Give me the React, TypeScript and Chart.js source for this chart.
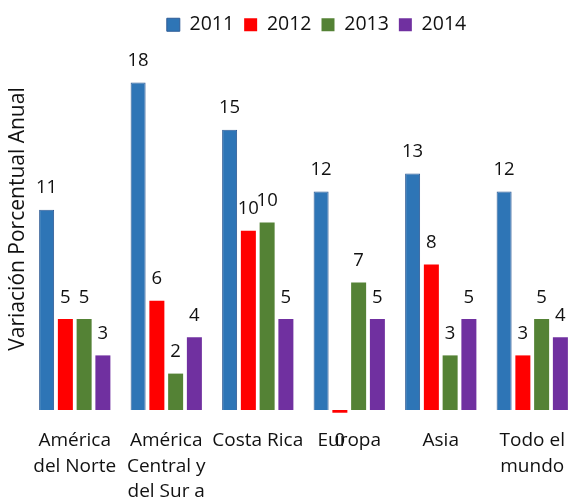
import React, { useEffect, useRef } from 'react';
import { Chart, registerables } from 'chart.js';

Chart.register(...registerables);

const categories: (string | string[])[] = [
  ['América', 'del Norte'],
  ['América', 'Central y', 'del Sur a'],
  'Costa Rica',
  'Europa',
  'Asia',
  ['Todo el', 'mundo'],
];
const seriesNames = ['2011', '2012', '2013', '2014'];
const values2011 = [11, 18, 15.4, 12, 13, 12];
const values2012 = [5, 6, 9.85, -0.15, 8, 3];
const values2013 = [5, 2, 10.3, 7, 3, 5];
const values2014 = [3, 4, 5, 5, 5, 4];
const seriesColors = ['#2E75B6', '#FF0000', '#548235', '#7030A0'];
const seriesBorders = ['#2F5C96', '#FF0000', '#548235', '#7030A0'];
const yTitle = 'Variación Porcentual Anual';

const FONT = "'Open Sans', 'DejaVu Sans', sans-serif";
const TEXT = '#111111';

const legendPlugin = {
  id: 'legendTweak',
  beforeInit(chart: any) {
    const legend = chart.legend;
    if (legend) {
      const fit = legend.fit;
      legend.fit = function () {
        fit.call(legend);
        legend.height = 41;
      };
    }
  },
  afterLayout(chart: any) {
    const legend = chart.legend;
    if (legend) {
      legend.left += 13;
      legend.right += 13;
    }
  },
};

const labelPlugin = {
  id: 'valueLabels',
  afterDatasetsDraw(chart: any) {
    const ctx = chart.ctx;
    ctx.save();
    ctx.font = `18.5px ${FONT}`;
    ctx.fillStyle = TEXT;
    ctx.textAlign = 'center';
    ctx.textBaseline = 'alphabetic';
    chart.data.datasets.forEach((ds: any, di: number) => {
      const meta = chart.getDatasetMeta(di);
      meta.data.forEach((bar: any, i: number) => {
        const v = ds.data[i] as number;
        const txt = String(Math.round(v) + 0);
        const y = v >= 0 ? bar.y - 16.5 : bar.y + 33;
        ctx.fillText(txt === '-0' ? '0' : txt, bar.x, y);
      });
    });
    ctx.restore();
  },
};

const yTitlePlugin = {
  id: 'yTitle',
  afterDraw(chart: any) {
    const ctx = chart.ctx;
    const area = chart.chartArea;
    ctx.save();
    ctx.font = `21px ${FONT}`;
    ctx.fillStyle = TEXT;
    ctx.textAlign = 'center';
    ctx.textBaseline = 'middle';
    ctx.translate(18, area.top + 173);
    ctx.rotate(-Math.PI / 2);
    ctx.fillText(yTitle, 0, 0);
    ctx.restore();
  },
};

export default function App() {
  const ref = useRef<HTMLCanvasElement | null>(null);

  useEffect(() => {
    if (!ref.current) return;
    const seriesValues = [values2011, values2012, values2013, values2014];
    const chart = new Chart(ref.current, {
      type: 'bar',
      data: {
        labels: categories,
        datasets: seriesNames.map((name, i) => ({
          label: name,
          data: seriesValues[i],
          backgroundColor: seriesColors[i],
          borderColor: seriesBorders[i],
          borderWidth: i === 0 ? 1 : 0,
          barPercentage: 0.8,
          categoryPercentage: 0.82,
        })),
      },
      options: {
        responsive: false,
        animation: false,
        devicePixelRatio: 1,
        layout: { padding: { left: 29, right: 2, top: 5, bottom: 0 } },
        plugins: {
          legend: {
            position: 'top',
            labels: {
              boxWidth: 13,
              boxHeight: 13,
              padding: 10,
              color: TEXT,
              font: { family: FONT, size: 19.5 },
            },
          },
          tooltip: { enabled: false },
          title: { display: false },
        },
        scales: {
          x: {
            grid: { display: false },
            border: { display: false },
            ticks: {
              color: TEXT,
              font: { family: FONT, size: 19, lineHeight: 1.34 },
              padding: -1,
              maxRotation: 0,
              minRotation: 0,
              autoSkip: false,
            },
            afterFit(scale: any) {
              scale.height = 78.08;
            },
          },
          y: {
            min: -0.6,
            max: 20,
            ticks: { display: false, stepSize: 1 },
            border: { display: false },
            grid: {
              drawTicks: false,
              color: (c: any) => (c.tick && c.tick.value === 0 ? '#D9D9D9' : 'rgba(0,0,0,0)'),
              lineWidth: 2,
            },
            afterFit(scale: any) {
              scale.width = 0;
            },
          },
        },
      },
      plugins: [legendPlugin, labelPlugin, yTitlePlugin],
    } as any);
    return () => chart.destroy();
  }, []);

  return (
    <div
      style={{
        position: 'fixed',
        left: 0,
        top: 0,
        width: 572,
        height: 499,
        overflow: 'hidden',
        background: '#fff',
      }}
    >
      <canvas ref={ref} width={580} height={499} style={{ width: 580, height: 499, display: 'block' }} />
    </div>
  );
}
